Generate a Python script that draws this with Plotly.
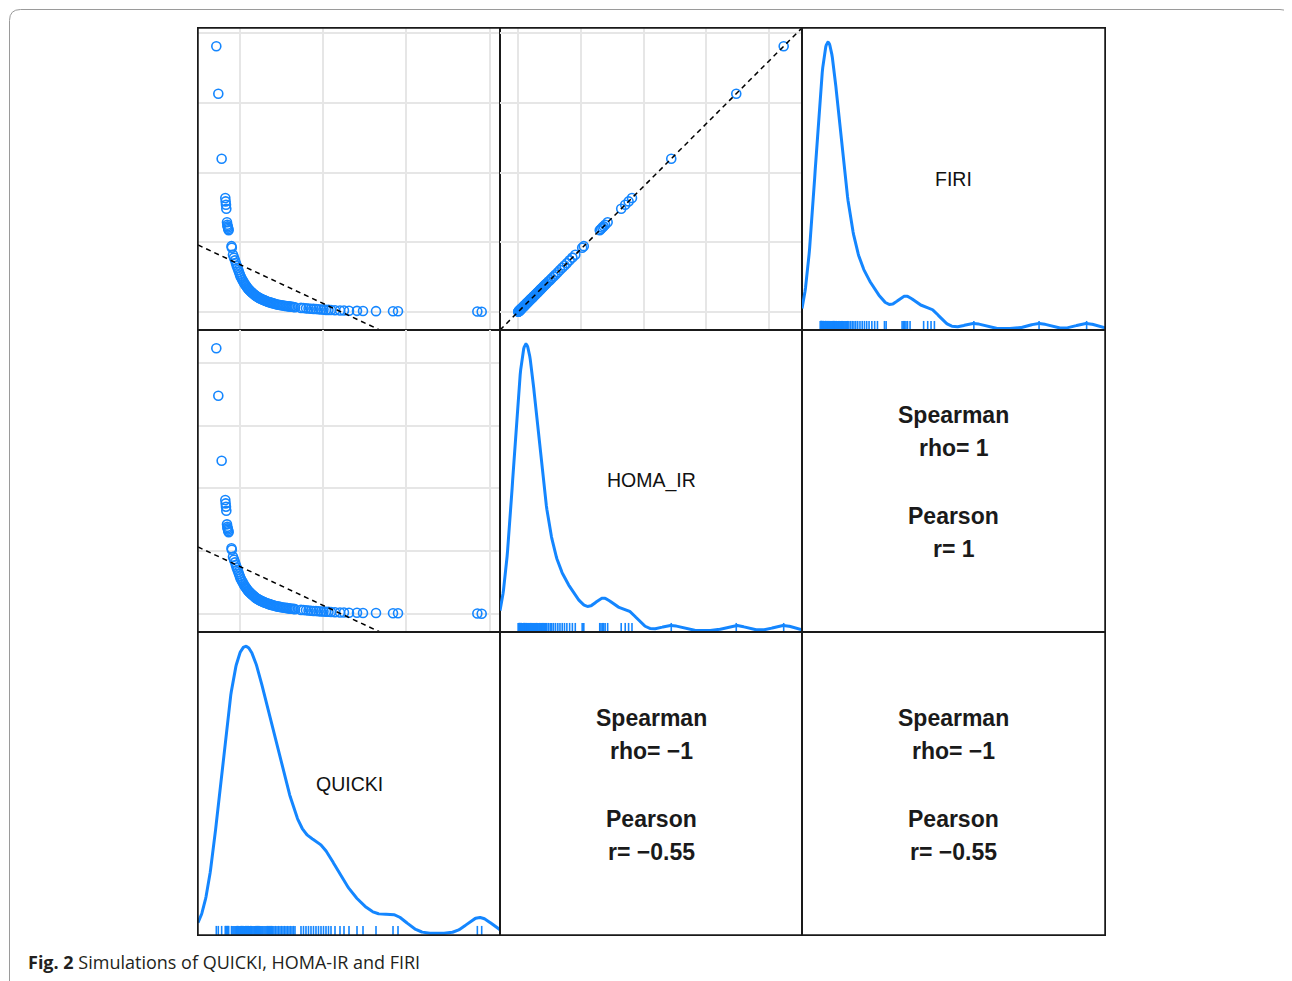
import numpy as np
import plotly.graph_objects as go
from plotly.subplots import make_subplots

# ---------------- data ----------------
quicki = [0.2720, 0.2744, 0.2784, 0.2828, 0.2832, 0.2836, 0.2840, 0.2848, 0.2852, 0.2855, 0.2860, 0.2864, 0.2868, 0.2902, 0.2906,
          0.2920, 0.2932, 0.2944, 0.2955, 0.2964, 0.2974, 0.2984, 0.2993, 0.3003, 0.3012, 0.3022, 0.3033, 0.3045,
          0.3054, 0.3063, 0.3071, 0.3080, 0.3088, 0.3096, 0.3105, 0.3113, 0.3122, 0.3130, 0.3140, 0.3149,
          0.3160, 0.3171, 0.3182, 0.3192, 0.3203, 0.3214, 0.3225, 0.3236, 0.3246, 0.3257, 0.3268, 0.3279,
          0.3292, 0.3305, 0.3318, 0.3332, 0.3345, 0.3358, 0.3371, 0.3384, 0.3398,
          0.3412, 0.3430, 0.3448, 0.3466, 0.3484, 0.3502, 0.3520, 0.3538, 0.3556,
          0.3574, 0.3592, 0.3610, 0.3628, 0.3646, 0.3664,
          0.3736, 0.3766, 0.3796, 0.3826, 0.3856, 0.3886, 0.3916, 0.3946, 0.3976, 0.4006, 0.4036, 0.4066, 0.4096,
          0.4144, 0.4204, 0.4252, 0.4312, 0.4408, 0.4480, 0.4636, 0.4840, 0.4900, 0.5852, 0.5904]

firi = [19.05, 15.65, 10.99, 8.17, 7.93, 7.69, 7.40, 6.43, 6.25, 6.14, 6.05, 5.95, 5.86, 4.72, 4.60,
        4.10, 3.90, 3.70, 3.50, 3.33, 3.17, 3.01, 2.85, 2.69, 2.55, 2.42, 2.30, 2.18,
        2.06, 1.98, 1.91, 1.84, 1.77, 1.70, 1.64, 1.59, 1.54, 1.49, 1.43, 1.38,
        1.33, 1.27, 1.22, 1.17, 1.12, 1.08, 1.04, 1.01, 0.97, 0.94, 0.91, 0.88,
        0.85, 0.81, 0.78, 0.75, 0.72, 0.70, 0.67, 0.65, 0.62,
        0.60, 0.57, 0.54, 0.52, 0.50, 0.48, 0.46, 0.44, 0.43,
        0.41, 0.40, 0.38, 0.37, 0.36, 0.34,
        0.29, 0.28, 0.26, 0.25, 0.23, 0.22, 0.21, 0.19, 0.18, 0.17, 0.15, 0.15, 0.14,
        0.12, 0.11, 0.10, 0.09, 0.08, 0.07, 0.06, 0.05, 0.05, 0.03, 0.02]

homa_ir = [21.17, 17.39, 12.21, 9.08, 8.81, 8.54, 8.22, 7.14, 6.94, 6.82, 6.72, 6.61, 6.51, 5.24, 5.11,
           4.56, 4.33, 4.11, 3.89, 3.70, 3.52, 3.34, 3.17, 2.99, 2.83, 2.69, 2.56, 2.42,
           2.29, 2.20, 2.12, 2.04, 1.97, 1.89, 1.82, 1.77, 1.71, 1.66, 1.59, 1.53,
           1.48, 1.41, 1.36, 1.30, 1.24, 1.20, 1.16, 1.12, 1.08, 1.04, 1.01, 0.98,
           0.94, 0.90, 0.87, 0.83, 0.80, 0.78, 0.74, 0.72, 0.69,
           0.67, 0.63, 0.60, 0.58, 0.56, 0.53, 0.51, 0.49, 0.48,
           0.46, 0.44, 0.42, 0.41, 0.40, 0.38,
           0.32, 0.31, 0.29, 0.28, 0.26, 0.24, 0.23, 0.21, 0.20, 0.19, 0.17, 0.17, 0.16,
           0.13, 0.12, 0.11, 0.10, 0.09, 0.08, 0.07, 0.06, 0.06, 0.03, 0.02]

col_vars = ["QUICKI", "HOMA_IR", "FIRI"]      # left -> right
row_vars = ["FIRI", "HOMA_IR", "QUICKI"]      # top -> bottom

# correlation texts for the lower-right panels
spearman_rho = {("HOMA_IR", "FIRI"): "1", ("QUICKI", "HOMA_IR"): "\u22121", ("QUICKI", "FIRI"): "\u22121"}
pearson_r = {("HOMA_IR", "FIRI"): "1", ("QUICKI", "HOMA_IR"): "\u22120.55", ("QUICKI", "FIRI"): "\u22120.55"}

# dashed fitted lines (intercept, slope) of y-variable on x-variable
fit_lines = {("FIRI", "QUICKI"): (11.79, -27.94),
             ("HOMA_IR", "QUICKI"): (13.10, -31.04),
             ("FIRI", "HOMA_IR"): (0.0, 0.9)}

grid_ticks = {"QUICKI": (0.3, 0.1), "HOMA_IR": (0.0, 5.0), "FIRI": (0.0, 5.0)}

caption_bold = "Fig. 2"
caption_text = "Simulations of QUICKI, HOMA-IR and FIRI"

# ---------------- styling ----------------
OFF = 8                      # page body margin of the html page
W, H = 1292 - OFF, 981 - OFF
BLUE = "#1486ff"
xb = [198, 500, 802, 1105]
yb = [28, 330, 632, 935]
PAD = 0.069
BW_FRAC = {"QUICKI": 0.045, "HOMA_IR": 0.037, "FIRI": 0.037}


def px(x):
    return (x - OFF) / W


def py(y):
    return 1 - (y - OFF) / H


data = {"QUICKI": np.array(quicki), "HOMA_IR": np.array(homa_ir), "FIRI": np.array(firi)}


def axis_range(v):
    lo, hi = v.min(), v.max()
    p = (hi - lo) * PAD
    return [lo - p, hi + p]


def kde(v, grid, bw):
    z = (grid[:, None] - v[None, :]) / bw
    return np.exp(-0.5 * z * z).sum(axis=1) / (len(v) * bw * np.sqrt(2 * np.pi))


fig = make_subplots(rows=3, cols=3, horizontal_spacing=0, vertical_spacing=0)

annotations = []
line_style = dict(showticklabels=False, ticks="", zeroline=False, showline=True, mirror=True,
                  linecolor="#1a1a1a", linewidth=1)
grid_style = dict(gridcolor="#e6e6e6", gridwidth=1.5)

for r in range(1, 4):
    for c in range(1, 4):
        idx = (r - 1) * 3 + c
        xa = "xaxis" if idx == 1 else f"xaxis{idx}"
        ya = "yaxis" if idx == 1 else f"yaxis{idx}"
        xdom = [px(xb[c - 1]), px(xb[c])]
        ydom = [py(yb[r]), py(yb[r - 1])]
        xv, yv = col_vars[c - 1], row_vars[r - 1]
        cx = (xdom[0] + xdom[1]) / 2
        cy = (ydom[0] + ydom[1]) / 2
        if xv == yv:
            v = data[xv]
            rng = axis_range(v)
            grid = np.linspace(rng[0], rng[1], 600)
            bw = BW_FRAC[xv] * (v.max() - v.min())
            d = kde(v, grid, bw)
            peak = d.max()
            ylo, yhi = -0.005 * peak, 1.05 * peak
            fig.add_trace(go.Scatter(x=grid, y=d, mode="lines", line=dict(color=BLUE, width=3),
                                     hoverinfo="skip", showlegend=False), row=r, col=c)
            rh = ylo + 0.03 * (yhi - ylo)
            rx, ry = [], []
            for val in v:
                rx += [val, val, None]
                ry += [ylo, rh, None]
            fig.add_trace(go.Scatter(x=rx, y=ry, mode="lines", line=dict(color=BLUE, width=1.6),
                                     hoverinfo="skip", showlegend=False), row=r, col=c)
            fig.update_layout({xa: dict(domain=xdom, range=rng, showgrid=False, **line_style),
                               ya: dict(domain=ydom, range=[ylo, yhi], showgrid=False, **line_style)})
            annotations.append(dict(x=cx, y=cy, xref="paper", yref="paper", text=xv, showarrow=False,
                                    font=dict(family="Liberation Sans, Arial", size=19.5, color="#111111"),
                                    xanchor="center", yanchor="middle"))
        elif r + c < 4:
            xs, ys = data[xv], data[yv]
            xr, yr = axis_range(xs), axis_range(ys)
            fig.add_trace(go.Scatter(x=xs, y=ys, mode="markers",
                                     marker=dict(symbol="circle-open", size=9, color=BLUE, line=dict(width=1.6)),
                                     hoverinfo="skip", showlegend=False), row=r, col=c)
            b0, b1 = fit_lines[(yv, xv)]
            lx = np.array(xr)
            fig.add_trace(go.Scatter(x=lx, y=b0 + b1 * lx, mode="lines",
                                     line=dict(color="black", width=1.5, dash="5px,4px"),
                                     hoverinfo="skip", showlegend=False), row=r, col=c)
            t0x, dtx = grid_ticks[xv]
            t0y, dty = grid_ticks[yv]
            fig.update_layout({xa: dict(domain=xdom, range=xr, showgrid=True, tick0=t0x, dtick=dtx, **line_style, **grid_style),
                               ya: dict(domain=ydom, range=yr, showgrid=True, tick0=t0y, dtick=dty, **line_style, **grid_style)})
        else:
            key = (xv, yv) if (xv, yv) in spearman_rho else (yv, xv)
            fig.add_trace(go.Scatter(x=[0.5], y=[0.5], mode="markers", marker=dict(opacity=0),
                                     hoverinfo="skip", showlegend=False), row=r, col=c)
            fig.update_layout({xa: dict(domain=xdom, range=[0, 1], showgrid=False, **line_style),
                               ya: dict(domain=ydom, range=[0, 1], showgrid=False, **line_style)})
            lines = [("Spearman", 66), (f"rho= {spearman_rho[key]}", 33),
                     ("Pearson", -35), (f"r= {pearson_r[key]}", -68)]
            for txt, sh in lines:
                annotations.append(dict(x=cx, y=cy, xref="paper", yref="paper", yshift=sh,
                                        text=f"<b>{txt}</b>", showarrow=False,
                                        font=dict(family="Liberation Sans, Arial", size=23, color="#1a1a1a"),
                                        xanchor="center", yanchor="middle"))

annotations.append(dict(x=px(26), y=py(962), xref="paper", yref="paper",
                        text=f"<b>{caption_bold}</b> {caption_text}", showarrow=False,
                        font=dict(family="Open Sans", size=18, color="#231f20"),
                        xanchor="left", yanchor="middle"))

# page frame
x0, x1, yt = px(9.5), px(1291), py(9.5)
rxp, ryp = 11 / W, 11 / H
frame = (f"M {x0},0 L {x0},{yt - ryp} Q {x0},{yt} {x0 + rxp},{yt} "
         f"L {x1 - rxp},{yt} Q {x1},{yt} {x1},{yt - ryp} L {x1},0")

fig.update_layout(
    width=W, height=H, margin=dict(l=0, r=0, t=0, b=0),
    paper_bgcolor="white", plot_bgcolor="white", showlegend=False,
    annotations=annotations,
    shapes=[dict(type="path", path=frame, xref="paper", yref="paper",
                 line=dict(color="#9a9a9a", width=1)),
            dict(type="rect", xref="paper", yref="paper", x0=px(xb[0]), x1=px(xb[3]),
                 y0=py(yb[3]), y1=py(yb[0]), line=dict(color="#1a1a1a", width=1.5))],
)

fig.write_html("out.html")
